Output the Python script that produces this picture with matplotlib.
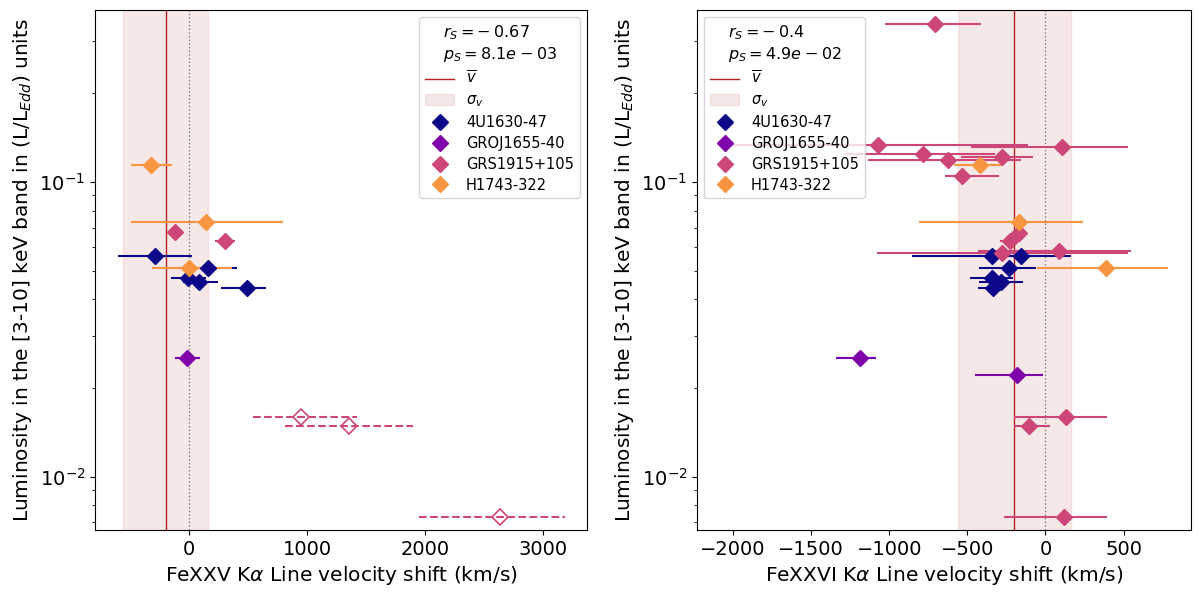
import numpy as np
import matplotlib
matplotlib.use("Agg")
import matplotlib.pyplot as plt
from matplotlib.lines import Line2D
from matplotlib.patches import Patch

# colours of the four sources (plasma palette)
sources = ["4U1630-47", "GROJ1655-40", "GRS1915+105", "H1743-322"]
colors = ["#0d0887", "#7e03a8", "#cc4778", "#f89540"]

# mean velocity shift and its spread
v_mean = -200
v_sigma = 362

# ---- FeXXV panel ----
fe25_4u_v = [-288, 155, -14, 85, 487]
fe25_4u_L = [0.0560, 0.0511, 0.0474, 0.0457, 0.0437]
fe25_4u_lo = [320, 250, 140, 142, 215]
fe25_4u_hi = [310, 250, 155, 155, 165]

fe25_gro_v = [-20]
fe25_gro_L = [0.0253]
fe25_gro_lo = [99]
fe25_gro_hi = [113]

fe25_grs_v = [-121, 302]
fe25_grs_L = [0.0675, 0.0631]
fe25_grs_lo = [40, 88]
fe25_grs_hi = [40, 88]

# GRS1915+105 points drawn open/dashed
fe25_grs_open_v = [946, 1356, 2638]
fe25_grs_open_L = [0.0159, 0.01486, 0.00732]
fe25_grs_open_lo = [402, 542, 686]
fe25_grs_open_hi = [475, 545, 548]

fe25_h17_v = [-328, 138, 0]
fe25_h17_L = [0.114, 0.0732, 0.0511]
fe25_h17_lo = [163, 629, 316]
fe25_h17_hi = [181, 653, 362]

# ---- FeXXVI panel ----
fe26_4u_v = [-343, -154, -234, -341, -283, -337]
fe26_4u_L = [0.0560, 0.0560, 0.0511, 0.0474, 0.0457, 0.0437]
fe26_4u_lo = [509, 100, 193, 142, 140, 92]
fe26_4u_hi = [505, 100, 176, 133, 139, 60]

fe26_gro_v = [-1185, -185]
fe26_gro_L = [0.0253, 0.0222]
fe26_gro_lo = [155, 266]
fe26_gro_hi = [97, 170]

fe26_grs_v = [-708, -1071, 109, -781, -279, -627, -537, -170, -230, -276, 86, 129, -105, 120]
fe26_grs_L = [0.3424, 0.1332, 0.1318, 0.1245, 0.1218, 0.1190, 0.1050, 0.0673, 0.0631,
              0.0573, 0.0581, 0.0159, 0.01486, 0.00732]
fe26_grs_lo = [322, 960, 585, 500, 262, 508, 107, 30, 60, 805, 520, 331, 97, 386]
fe26_grs_hi = [296, 960, 419, 455, 199, 472, 237, 30, 30, 805, 463, 267, 137, 272]

fe26_h17_v = [-418, -167, 386]
fe26_h17_L = [0.1142, 0.0732, 0.0511]
fe26_h17_lo = [166, 642, 440]
fe26_h17_hi = [141, 409, 399]

stats = [("-0.67", "8.1e-03"), ("-0.4", "4.9e-02")]

ms = 8
label_fs = 14.5
tick_fs = 14
leg_fs = 10.5


def draw_points(ax, v, L, lo, hi, color, open_marker=False):
    eb = ax.errorbar(v, L, xerr=[lo, hi], fmt='D', color=color, ms=ms,
                     mfc='none' if open_marker else color, mew=1.2 if open_marker else 1.0,
                     elinewidth=1.5, capsize=0, zorder=3)
    if open_marker:
        eb[-1][0].set_linestyle('--')
    return eb


def decorate(ax, xlabel, r, p, loc):
    ax.axvspan(v_mean - v_sigma, v_mean + v_sigma, color='firebrick', alpha=0.1, zorder=0)
    ax.axvline(v_mean, color='firebrick', lw=1, zorder=1)
    ax.axvline(0, color='grey', lw=1, ls=':', zorder=1)
    ax.set_yscale('log')
    ax.set_ylim(0.0066, 0.383)
    ax.set_xlabel(xlabel, fontsize=label_fs)
    ax.set_ylabel(r'Luminosity in the [3-10] keV band in (L/L$_{Edd}$) units', fontsize=label_fs)
    ax.tick_params(labelsize=tick_fs)

    handles = [Line2D([], [], color='firebrick', lw=1, label=r'$\overline{v}$'),
               Patch(facecolor='firebrick', edgecolor='firebrick', alpha=0.1, label=r'$\sigma_v$')]
    for s, c in zip(sources, colors):
        handles.append(Line2D([], [], marker='D', ls='none', color=c, ms=ms, label=s))
    # old-style mathtext spacing around the minus signs
    r_txt = r.replace('-', r'-\:')
    p_txt = p.replace('-', r'\:-\:')
    leg = ax.legend(handles=handles, loc=loc, fontsize=leg_fs, labelspacing=0.4,
                    title=f"$r_S = {r_txt}$\n$p_S = {p_txt}$", title_fontsize=leg_fs + 1)
    leg.get_title().set_multialignment('left')


fig = plt.figure(figsize=(12, 5.99), dpi=100)
ax1 = fig.add_axes([95 / 1200, 1 - 530 / 599, (587 - 95) / 1200, 520 / 599])
ax2 = fig.add_axes([697 / 1200, 1 - 530 / 599, (1191 - 697) / 1200, 520 / 599])

# left: FeXXV
draw_points(ax1, fe25_4u_v, fe25_4u_L, fe25_4u_lo, fe25_4u_hi, colors[0])
draw_points(ax1, fe25_gro_v, fe25_gro_L, fe25_gro_lo, fe25_gro_hi, colors[1])
draw_points(ax1, fe25_grs_v, fe25_grs_L, fe25_grs_lo, fe25_grs_hi, colors[2])
draw_points(ax1, fe25_grs_open_v, fe25_grs_open_L, fe25_grs_open_lo, fe25_grs_open_hi,
            colors[2], open_marker=True)
draw_points(ax1, fe25_h17_v, fe25_h17_L, fe25_h17_lo, fe25_h17_hi, colors[3])
ax1.set_xlim(-800, 3373)
ax1.set_xticks([0, 1000, 2000, 3000])
decorate(ax1, r'FeXXV K$\alpha$ Line velocity shift (km/s)', *stats[0], loc='upper right')

# right: FeXXVI
draw_points(ax2, fe26_4u_v, fe26_4u_L, fe26_4u_lo, fe26_4u_hi, colors[0])
draw_points(ax2, fe26_gro_v, fe26_gro_L, fe26_gro_lo, fe26_gro_hi, colors[1])
draw_points(ax2, fe26_grs_v, fe26_grs_L, fe26_grs_lo, fe26_grs_hi, colors[2])
draw_points(ax2, fe26_h17_v, fe26_h17_L, fe26_h17_lo, fe26_h17_hi, colors[3])
ax2.set_xlim(-2231, 932)
ax2.set_xticks([-2000, -1500, -1000, -500, 0, 500])
decorate(ax2, r'FeXXVI K$\alpha$ Line velocity shift (km/s)', *stats[1], loc='upper left')

fig.savefig('out.png', dpi=100)
